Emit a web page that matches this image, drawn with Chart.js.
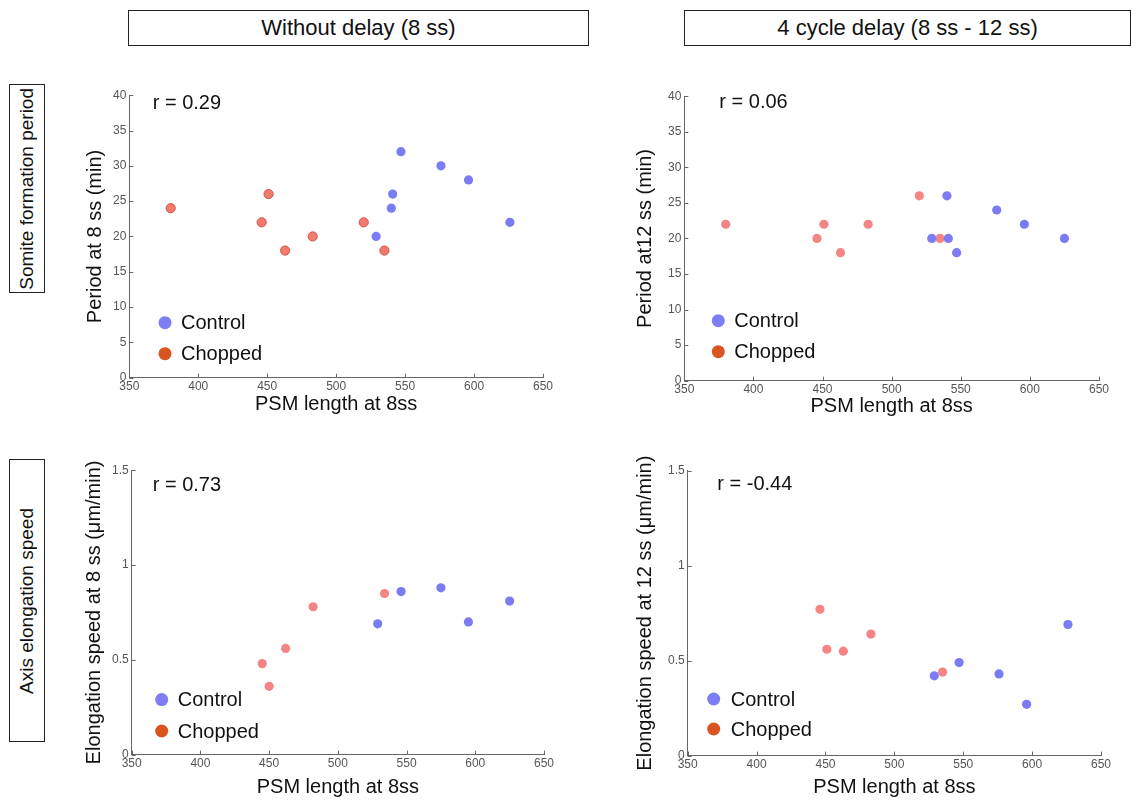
<!DOCTYPE html>
<html>
<head>
<meta charset="utf-8">
<script src="https://cdn.jsdelivr.net/npm/chart.js@4/dist/chart.umd.min.js"></script>
<style>
  html, body { margin: 0; padding: 0; background: #fff; }
  #wrap { position: relative; width: 1143px; height: 801px; overflow: hidden; background: #fff;
          font-family: "Liberation Sans", Arial, sans-serif; color: #111; }
  .hbox { position: absolute; box-sizing: border-box; border: 1.5px solid #222; font-size: 22px;
          display: flex; align-items: center; justify-content: center; background: #fff; }
  .vbox { position: absolute; box-sizing: border-box; border: 1.5px solid #222; font-size: 19px;
          display: flex; align-items: center; justify-content: center; background: #fff; }
  .vbox span { writing-mode: vertical-rl; transform: rotate(180deg); white-space: nowrap; }
  canvas { position: absolute; }
</style>
</head>
<body>
<div id="wrap">
  <div class="hbox" style="left:128px;top:10px;width:461px;height:36px;">Without delay (8 ss)</div>
  <div class="hbox" style="left:684px;top:10px;width:447px;height:36px;">4 cycle delay (8 ss - 12 ss)</div>
  <div class="vbox" style="left:9px;top:84px;width:36px;height:209px;"><span>Somite formation period</span></div>
  <div class="vbox" style="left:9px;top:459px;width:36px;height:283px;"><span>Axis elongation speed</span></div>
  <canvas id="c1"></canvas>
  <canvas id="c2"></canvas>
  <canvas id="c3"></canvas>
  <canvas id="c4"></canvas>
</div>
<script>
// ---------------- data ----------------
const seriesNames = ["Control", "Chopped"];
const xTicksPSM = [350, 400, 450, 500, 550, 600, 650];
const yTicksPeriod = [0, 5, 10, 15, 20, 25, 30, 35, 40];
const yTicksSpeed = [0, 0.5, 1, 1.5];

// Somite formation period vs PSM length, without delay (8 ss)
const ctrlPsm8_A = [529, 540, 541, 547, 576, 596, 626];
const ctrlPeriod8 = [20, 24, 26, 32, 30, 28, 22];
const chopPsm8_A = [380, 446, 451, 463, 483, 520, 535];
const chopPeriod8 = [24, 22, 26, 18, 20, 22, 18];

// Somite formation period at 12 ss vs PSM length at 8 ss
const ctrlPsm8_B = [529, 540, 541, 547, 576, 596, 625];
const ctrlPeriod12 = [20, 26, 20, 18, 24, 22, 20];
const chopPsm8_B = [380, 446, 451, 463, 483, 520, 535];
const chopPeriod12 = [22, 20, 22, 18, 22, 26, 20];

// Elongation speed at 8 ss
const ctrlPsm8_C = [529, 546, 575, 595, 625];
const ctrlSpeed8 = [0.69, 0.86, 0.88, 0.70, 0.81];
const chopPsm8_C = [445, 450, 462, 482, 534];
const chopSpeed8 = [0.48, 0.36, 0.56, 0.78, 0.85];

// Elongation speed at 12 ss
const ctrlPsm8_D = [529, 547, 576, 596, 626];
const ctrlSpeed12 = [0.42, 0.49, 0.43, 0.27, 0.69];
const chopPsm8_D = [446, 451, 463, 483, 535];
const chopSpeed12 = [0.77, 0.56, 0.55, 0.64, 0.44];

const rValues = ["r = 0.29", "r = 0.06", "r = 0.73", "r = -0.44"];

// ---------------- styling ----------------
const FONT = '"Liberation Sans", Arial, sans-serif';
const BLUE = '#7b7bf3';
const RED_FILL = '#f58585';
const LEG_BLUE = '#7d7df5';
const LEG_RED = '#d9541e';

function pts(xs, ys) { return xs.map((x, i) => ({ x: x, y: ys[i] })); }

const decoPlugin = {
  id: 'deco',
  afterDraw(chart, args, o) {
    const { ctx, chartArea: a, scales: { x, y } } = chart;
    ctx.save();
    ctx.strokeStyle = '#666';
    ctx.lineWidth = 1;
    ctx.beginPath();
    x.ticks.forEach((t, i) => {
      const px = Math.round(x.getPixelForTick(i)) + 0.5;
      ctx.moveTo(px, a.bottom); ctx.lineTo(px, a.bottom - 4);
    });
    y.ticks.forEach((t, i) => {
      const py = Math.round(y.getPixelForTick(i)) + 0.5;
      ctx.moveTo(a.left, py); ctx.lineTo(a.left + 4, py);
    });
    ctx.stroke();
    ctx.fillStyle = '#111';
    ctx.font = '20px ' + FONT;
    ctx.textAlign = 'left';
    ctx.textBaseline = 'middle';
    ctx.fillText(o.r, a.left + o.rx, a.top + o.ry);
    const items = [[seriesNames[0], LEG_BLUE, o.l1], [seriesNames[1], LEG_RED, o.l2]];
    items.forEach(([lab, col, dy]) => {
      ctx.fillStyle = col;
      ctx.beginPath();
      ctx.arc(a.left + o.lx, a.bottom - dy, 6.5, 0, Math.PI * 2);
      ctx.fill();
      ctx.fillStyle = '#111';
      ctx.fillText(lab, a.left + o.tx, a.bottom - dy + 1);
    });
    ctx.restore();
  }
};

function makePanel(cfg) {
  const cv = document.getElementById(cfg.id);
  cv.width = cfg.w; cv.height = cfg.h;
  cv.style.left = cfg.left + 'px'; cv.style.top = cfg.top + 'px';
  cv.style.width = cfg.w + 'px'; cv.style.height = cfg.h + 'px';
  new Chart(cv, {
    type: 'scatter',
    data: {
      datasets: [
        { label: seriesNames[0], data: pts(cfg.cx, cfg.cy), backgroundColor: BLUE, borderColor: BLUE,
          borderWidth: 0, pointRadius: 4.6, pointHoverRadius: 4.6 },
        { label: seriesNames[1], data: pts(cfg.hx, cfg.hy), backgroundColor: cfg.redFill,
          borderColor: cfg.redBorder, borderWidth: cfg.redBW, pointRadius: 4.6, pointHoverRadius: 4.6 }
      ]
    },
    options: {
      responsive: false, animation: false, devicePixelRatio: 1,
      layout: { padding: { top: cfg.padTop, right: 15, left: 0, bottom: 0 } },
      plugins: { legend: { display: false }, tooltip: { enabled: false }, deco: cfg.deco },
      scales: {
        x: {
          type: 'linear', min: xTicksPSM[0], max: xTicksPSM[xTicksPSM.length - 1],
          afterBuildTicks: s => { s.ticks = xTicksPSM.map(v => ({ value: v })); },
          afterFit: s => { s.height = cfg.xh; },
          grid: { display: false, drawTicks: false },
          border: { display: true, color: '#666', width: 1 },
          ticks: { color: '#555', font: { family: FONT, size: 12 }, padding: 2, maxRotation: 0,
                   callback: v => String(v) },
          title: { display: true, text: 'PSM length at 8ss', color: '#111',
                   font: { family: FONT, size: 20 }, padding: { top: 4, bottom: cfg.xtPad } }
        },
        y: {
          type: 'linear', min: cfg.yt[0], max: cfg.yt[cfg.yt.length - 1],
          afterBuildTicks: s => { s.ticks = cfg.yt.map(v => ({ value: v })); },
          afterFit: s => { s.width = cfg.yw; },
          grid: { display: false, drawTicks: false },
          border: { display: true, color: '#666', width: 1 },
          ticks: { color: '#555', font: { family: FONT, size: 12 }, padding: 3,
                   callback: v => String(v) },
          title: { display: true, text: cfg.ytitle, color: '#111',
                   font: { family: FONT, size: 20 }, padding: { top: 4, bottom: 4 } }
        }
      }
    },
    plugins: [decoPlugin]
  });
}

makePanel({ id: 'c1', left: 79, top: 84.7, w: 479, h: 335, padTop: 10, yw: 50.3, xh: 42.3, xtPad: 4,
  cx: ctrlPsm8_A, cy: ctrlPeriod8, hx: chopPsm8_A, hy: chopPeriod8, yt: yTicksPeriod,
  ytitle: 'Period at 8 ss (min)', redFill: '#f27a6e', redBorder: '#cf5546', redBW: 1,
  deco: { r: rValues[0], rx: 23.4, ry: 8, lx: 35.7, tx: 51.7, l1: 55, l2: 24 } });

makePanel({ id: 'c2', left: 629, top: 86.3, w: 485, h: 336, padTop: 10, yw: 55.3, xh: 41.3, xtPad: 4,
  cx: ctrlPsm8_B, cy: ctrlPeriod12, hx: chopPsm8_B, hy: chopPeriod12, yt: yTicksPeriod,
  ytitle: 'Period at12 ss (min)', redFill: RED_FILL, redBorder: RED_FILL, redBW: 0,
  deco: { r: rValues[1], rx: 35, ry: 6.4, lx: 34, tx: 50, l1: 60, l2: 29 } });

makePanel({ id: 'c3', left: 78, top: 440, w: 481, h: 361, padTop: 30.3, yw: 53.7, xh: 46.4, xtPad: 2,
  cx: ctrlPsm8_C, cy: ctrlSpeed8, hx: chopPsm8_C, hy: chopSpeed8, yt: yTicksSpeed,
  ytitle: 'Elongation speed at 8 ss (\u03bcm/min)', redFill: RED_FILL, redBorder: RED_FILL, redBW: 0,
  deco: { r: rValues[2], rx: 21, ry: 15.4, lx: 30, tx: 46, l1: 55, l2: 23.6 } });

makePanel({ id: 'c4', left: 629, top: 440, w: 487, h: 361, padTop: 30.7, yw: 58.7, xh: 45.4, xtPad: 2,
  cx: ctrlPsm8_D, cy: ctrlSpeed12, hx: chopPsm8_D, hy: chopSpeed12, yt: yTicksSpeed,
  ytitle: 'Elongation speed at 12 ss (\u03bcm/min)', redFill: RED_FILL, redBorder: RED_FILL, redBW: 0,
  deco: { r: rValues[3], rx: 29.6, ry: 13.3, lx: 26, tx: 43, l1: 56.6, l2: 26.6 } });
</script>
</body>
</html>
